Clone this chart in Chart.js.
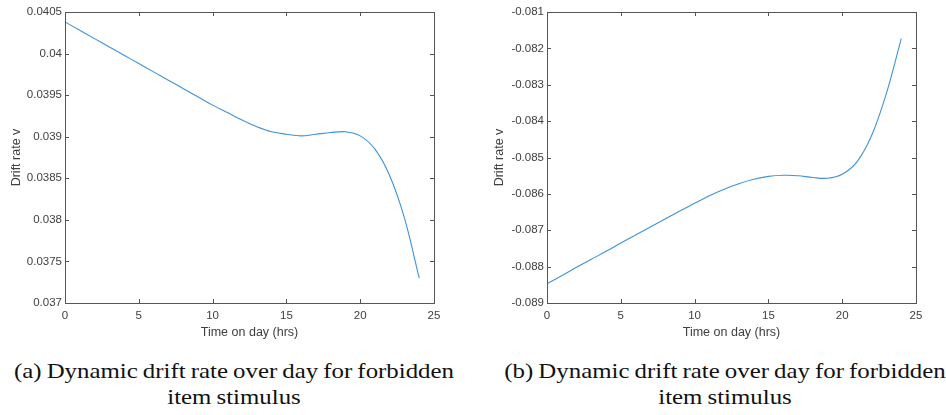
<!DOCTYPE html>
<html>
<head>
<meta charset="utf-8">
<script src="https://cdn.jsdelivr.net/npm/chart.js@4.4.1/dist/chart.umd.min.js"></script>
<style>
  body { margin: 0; background: #fff; width: 946px; height: 415px; overflow: hidden; position: relative; }
  .panel { position: absolute; top: 0; }
  .caption {
    position: absolute; top: 358px; text-align: center;
    font-family: "Liberation Serif", "DejaVu Serif", serif;
    font-size: 22px; line-height: 26px; color: #111;
    transform: scaleX(1.13); transform-origin: center top;
    word-spacing: -1px;
  }
</style>
</head>
<body>
<div class="panel" style="left:0px"><canvas id="chartA" width="450" height="340"></canvas></div>
<div class="panel" style="left:480px"><canvas id="chartB" width="466" height="340"></canvas></div>
<div class="caption" style="left:0px; width:468px">(a) Dynamic drift rate over day for forbidden<br>item stimulus</div>
<div class="caption" style="left:491px; width:468px">(b) Dynamic drift rate over day for forbidden<br>item stimulus</div>

<script>
// horas del dia (eje x)
var hours = [0,1,2,3,4,5,6,7,8,9,10,11,12,13,14,15,16,17,18,19,20,21,22,23,24];

// (a) drift rate, forbidden item
var driftA = [0.04038,0.04028,0.04018,0.04008,0.03998,0.03988,0.03978,0.03968,0.03958,0.03948,
              0.03938,0.03929,0.03920,0.03912,0.03906,0.03903,0.03901,0.03903,0.03905,0.03906,
              0.03901,0.03885,0.03853,0.03802,0.03730];

// (b) drift rate, forbidden item
var driftB = [-0.08847,-0.08825,-0.08802,-0.08780,-0.08758,-0.08735,-0.08713,-0.08691,-0.08669,-0.08647,
              -0.08626,-0.08605,-0.08587,-0.08572,-0.08560,-0.08552,-0.08549,-0.08550,-0.08555,-0.08557,
              -0.08546,-0.08512,-0.08439,-0.08323,-0.08173];

var xTicks = [0,5,10,15,20,25];
var yTicksA = [0.037,0.0375,0.038,0.0385,0.039,0.0395,0.04,0.0405];
var yTicksB = [-0.089,-0.088,-0.087,-0.086,-0.085,-0.084,-0.083,-0.082,-0.081];

var tickFont = { family: "'Liberation Sans', Arial, sans-serif", size: 11.5 };
var titleFont = { family: "'Liberation Sans', Arial, sans-serif", size: 12.5 };

// caja tipo matlab con ticks hacia dentro
var boxPlugin = {
  id: 'matlabBox',
  afterDatasetsDraw: function(chart){
    var ctx = chart.ctx;
    var a = chart.chartArea;
    var xs = chart.scales.x, ys = chart.scales.y;
    var len = 4;
    ctx.save();
    ctx.strokeStyle = '#555';
    ctx.lineWidth = 1;
    ctx.beginPath();
    xs.ticks.forEach(function(t){
      var px = Math.round(xs.getPixelForValue(t.value)) + 0.5;
      ctx.moveTo(px, a.bottom); ctx.lineTo(px, a.bottom - len);
      ctx.moveTo(px, a.top); ctx.lineTo(px, a.top + len);
    });
    ys.ticks.forEach(function(t){
      var py = Math.round(ys.getPixelForValue(t.value)) + 0.5;
      ctx.moveTo(a.left, py); ctx.lineTo(a.left + len, py);
      ctx.moveTo(a.right, py); ctx.lineTo(a.right - len, py);
    });
    ctx.stroke();
    ctx.strokeRect(Math.round(a.left) + 0.5, Math.round(a.top) + 0.5,
                   Math.round(a.right - a.left), Math.round(a.bottom - a.top));
    ctx.restore();
  }
};

function fmt(v){
  return String(parseFloat(v.toFixed(4)));
}

function makeChart(id, values, yTicks, yWidth, padRight, titlePad){
  var pts = hours.map(function(h, i){ return { x: h, y: values[i] }; });
  return new Chart(document.getElementById(id), {
    type: 'line',
    data: {
      datasets: [{
        data: pts,
        borderColor: '#3f93d8',
        borderWidth: 1.1,
        pointRadius: 0,
        fill: false,
        tension: 0.35
      }]
    },
    options: {
      responsive: false,
      animation: false,
      devicePixelRatio: 1,
      layout: { padding: { top: 12, right: padRight, left: 0, bottom: 0 } },
      plugins: { legend: { display: false }, tooltip: { enabled: false } },
      scales: {
        x: {
          type: 'linear',
          min: 0, max: 25,
          afterBuildTicks: function(s){ s.ticks = xTicks.map(function(v){ return { value: v }; }); },
          afterFit: function(s){ s.height = 37; },
          grid: { display: false, drawTicks: false },
          border: { display: false },
          ticks: { font: tickFont, color: '#404040', padding: 6, maxRotation: 0,
                   callback: function(v){ return String(v); } },
          title: { display: true, text: 'Time on day (hrs)', font: titleFont, color: '#404040',
                   padding: { top: 0, bottom: 0 } }
        },
        y: {
          type: 'linear',
          min: yTicks[0], max: yTicks[yTicks.length - 1],
          afterBuildTicks: function(s){ s.ticks = yTicks.map(function(v){ return { value: v }; }); },
          afterFit: function(s){ s.width = yWidth; },
          grid: { display: false, drawTicks: false },
          border: { display: false },
          ticks: { font: tickFont, color: '#404040', padding: 3,
                   callback: function(v){ return fmt(v); } },
          title: { display: true, text: 'Drift rate v', font: titleFont, color: '#404040',
                   padding: { top: titlePad, bottom: 0 } }
        }
      }
    },
    plugins: [boxPlugin]
  });
}

makeChart('chartA', driftA, yTicksA, 65, 16, 9);
makeChart('chartB', driftB, yTicksB, 67, 30, 12);
</script>
</body>
</html>
